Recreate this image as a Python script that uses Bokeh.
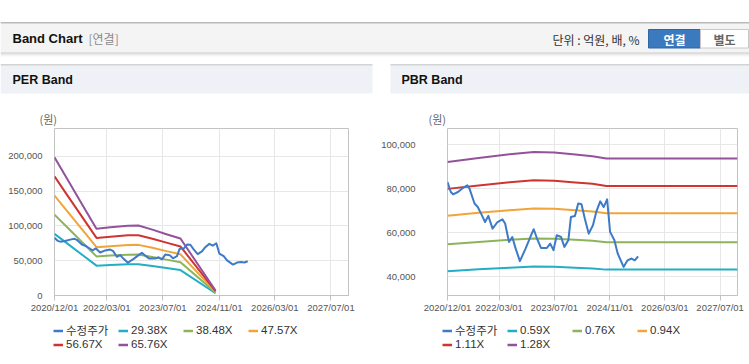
import datetime as dt
from bokeh.plotting import figure
from bokeh.layouts import column, row
from bokeh.models import (Range1d, FixedTicker, CustomJSTickFormatter, NumeralTickFormatter,
                          Legend, LegendItem)
from bokeh.core.properties import value
from bokeh.embed import file_html
from bokeh.resources import INLINE

# ---------------- data ----------------
per_band_dates = ["2020-12-01", "2021-04-01", "2021-08-01", "2021-12-01", "2022-04-01", "2022-09-01",
                  "2022-12-01", "2023-04-01", "2023-08-01", "2023-12-01", "2024-10-01"]
per_29 = [88700, 73450, 58170, 42890, 43780, 44800, 44950, 42310, 39370, 36580, 3230]
per_38 = [116210, 96200, 76190, 56180, 57340, 58680, 58870, 55410, 51560, 47910, 4230]
per_47 = [143660, 118930, 94190, 69450, 70880, 72540, 72780, 68500, 63740, 59230, 5230]
per_56 = [171140, 141680, 112210, 82740, 84440, 86420, 86710, 81600, 75940, 70550, 6230]
per_65 = [198600, 164400, 130200, 96010, 97980, 100280, 100610, 94690, 88120, 81870, 7230]
per_labels = ["29.38X", "38.48X", "47.57X", "56.67X", "65.76X"]

pbr_band_dates = ["2020-12-01", "2021-09-01", "2022-06-01", "2023-01-01", "2023-07-01", "2024-01-01",
                  "2024-06-01", "2024-10-01", "2027-12-01"]
pbr_059 = [42450, 43280, 44040, 44530, 44430, 44010, 43660, 43160, 43160]
pbr_076 = [54680, 55750, 56730, 57360, 57230, 56700, 56240, 55590, 55590]
pbr_094 = [67630, 68960, 70170, 70940, 70780, 70120, 69560, 68760, 68760]
pbr_111 = [79860, 81430, 82860, 83770, 83580, 82810, 82140, 81200, 81200]
pbr_128 = [92100, 93900, 95550, 96600, 96380, 95490, 94720, 93630, 93630]
pbr_labels = ["0.59X", "0.76X", "0.94X", "1.11X", "1.28X"]

price_dates = ["2020-12-01", "2020-12-30", "2021-01-19", "2021-03-03", "2021-04-16", "2021-05-24",
               "2021-06-13", "2021-07-27", "2021-08-25", "2021-09-23", "2021-10-28", "2021-11-26",
               "2022-01-02", "2022-02-15", "2022-03-30", "2022-04-23", "2022-05-27", "2022-06-25",
               "2022-07-25", "2022-08-31", "2022-10-20", "2022-12-08", "2022-12-31", "2023-01-29",
               "2023-03-05", "2023-04-26", "2023-05-25", "2023-06-23", "2023-07-22", "2023-08-29",
               "2023-09-27", "2023-11-01", "2023-11-24", "2023-12-29", "2024-01-27", "2024-02-25",
               "2024-03-25", "2024-04-29", "2024-06-05", "2024-07-04", "2024-08-08", "2024-09-07",
               "2024-10-08", "2024-11-03", "2024-12-11", "2025-01-09", "2025-03-02", "2025-04-06",
               "2025-05-11", "2025-06-09", "2025-07-08"]
price = [83000, 78450, 77400, 78450, 80300, 81500, 80000, 73200, 71600, 68600, 64800, 67600,
         61800, 64800, 66000, 64100, 55700, 58000, 52700, 47000, 52700, 58800, 61500, 57300,
         53000, 53000, 55000, 52000, 58800, 58000, 53500, 56500, 67100, 67500, 73200, 72900,
         66400, 59500, 63300, 69400, 74200, 71600, 75100, 60300, 56500, 50500, 44400, 47400,
         48200, 47400, 49200]
price_label = "수정주가"
unit_label = "(원)"

x_tick_labels = ["2020-12-01", "2022-03-01", "2023-07-01", "2024-11-01", "2026-03-01", "2027-07-01"]
x_start, x_end = "2020-12-01", "2027-12-01"
per_y_ticks = [0, 50000, 100000, 150000, 200000]
pbr_y_ticks = [40000, 60000, 80000, 100000]

colors = ["#3d7ac8", "#22afc6", "#8db45a", "#f0a53a", "#cf3431", "#94529d"]

NUM_FONT = "Liberation Sans"
KR_FONT = "Liberation Sans, Noto Sans CJK KR"


def d(s):
    return dt.datetime.strptime(s, "%Y-%m-%d")


def ms(s):
    return (d(s) - dt.datetime(1970, 1, 1)).total_seconds() * 1000


def chart(width, border_left, border_right, y0, y1, yticks, standoff, band_dates, bands):
    p = figure(width=width, height=191, x_axis_type="datetime", output_backend="svg",
               toolbar_location=None, min_border_left=border_left, min_border_right=border_right,
               min_border_top=1, min_border_bottom=23,
               x_range=Range1d(d(x_start), d(x_end)), y_range=Range1d(y0, y1))
    p.outline_line_color = "#c3c3c3"
    p.outline_line_width = 1
    p.background_fill_color = "white"
    p.border_fill_color = "white"
    p.grid.grid_line_color = "#e7e7e7"
    p.grid.grid_line_width = 1

    xt = FixedTicker(ticks=[ms(s) for s in x_tick_labels])
    p.xaxis.ticker = xt
    p.xgrid.ticker = xt
    p.xaxis.formatter = CustomJSTickFormatter(code="""
        const t = new Date(tick);
        const m = String(t.getUTCMonth() + 1).padStart(2, '0');
        const dd = String(t.getUTCDate()).padStart(2, '0');
        return t.getUTCFullYear() + '/' + m + '/' + dd;""")
    p.xaxis.axis_line_color = "#c3c3c3"
    p.xaxis.major_tick_line_color = "#c3c3c3"
    p.xaxis.major_tick_out = 5
    p.xaxis.major_tick_in = 0
    p.xaxis.minor_tick_line_color = None
    p.xaxis.major_label_standoff = 1
    p.xaxis.major_label_text_font = NUM_FONT
    p.xaxis.major_label_text_font_size = "9.5px"
    p.xaxis.major_label_text_color = "#555555"

    yt = FixedTicker(ticks=yticks)
    p.yaxis.ticker = yt
    p.ygrid.ticker = yt
    p.yaxis.formatter = NumeralTickFormatter(format="0,0")
    p.yaxis.axis_line_color = None
    p.yaxis.major_tick_line_color = None
    p.yaxis.minor_tick_line_color = None
    p.yaxis.major_label_standoff = standoff
    p.yaxis.major_label_text_font = NUM_FONT
    p.yaxis.major_label_text_font_size = "9.5px"
    p.yaxis.major_label_text_color = "#555555"

    bx = [d(s) for s in band_dates]
    for vals, col in zip(bands, colors[1:]):
        p.line(bx, vals, line_color=col, line_width=2, line_join="round")
    p.line([d(s) for s in price_dates], price, line_color=colors[0], line_width=2,
           line_join="round")
    return p


def legend_fig(width, border_left, labels):
    lf = figure(width=width, height=43, output_backend="svg", toolbar_location=None,
                min_border_left=border_left, min_border_top=4, min_border_right=0,
                min_border_bottom=0, x_range=Range1d(0, 1), y_range=Range1d(0, 1))
    lf.axis.visible = False
    lf.grid.visible = False
    lf.outline_line_color = None
    lf.background_fill_color = "white"
    lf.border_fill_color = "white"
    items = []
    for lab, col in zip([price_label] + labels, colors):
        # legend proxy: its data lie outside the legend area's range, so only the key shows
        r = lf.line(x=[5, 6], y=[5, 6], line_color=col, line_width=2.5)
        items.append(LegendItem(label=lab, renderers=[r]))
    legend = Legend(items=items, ncols=4, location="top_left", orientation="horizontal",
                    border_line_color=None, background_fill_alpha=0, padding=0, margin=0,
                    spacing=0, glyph_width=10, glyph_height=11, label_height=11, label_width=52,
                    label_standoff=3, label_text_font=KR_FONT, label_text_font_size="11.5px",
                    label_text_color="#333333", label_text_baseline="middle")
    lf.add_layout(legend)
    return lf


per = chart(378, 54, 30, 0, 240000, per_y_ticks, 6, per_band_dates,
            [per_29, per_38, per_47, per_56, per_65])
pbr = chart(371, 65, 12, 31400, 107300, pbr_y_ticks, 26, pbr_band_dates,
            [pbr_059, pbr_076, pbr_094, pbr_111, pbr_128])
per_leg = legend_fig(378, 53, per_labels)
pbr_leg = legend_fig(371, 64, pbr_labels)

# ---------------- header (page decoration) ----------------
h = figure(width=749, height=127, x_range=Range1d(0, 749), y_range=Range1d(127, 0),
           output_backend="svg", toolbar_location=None, min_border=0)
h.axis.visible = False
h.grid.visible = False
h.outline_line_color = None
h.background_fill_color = "white"
h.border_fill_color = "white"

h.quad(left=[0], right=[749], top=[22.5], bottom=[52], fill_color="#f4f4f4", line_color=None)
h.segment(x0=[0], x1=[749], y0=[22.3], y1=[22.3], line_color="#b9b9b9", line_width=1.5)
for yy, cc in [(52.5, "#c4c4c4"), (53.5, "#d9d9d9"), (54.5, "#e9e9e9"), (55.5, "#f5f5f5")]:
    h.segment(x0=[0], x1=[749], y0=[yy], y1=[yy], line_color=cc, line_width=1)

h.text(x=[12], y=[38], text=["Band Chart"], text_font=value("Liberation Sans"),
       text_font_style="bold", text_font_size="13px", text_color="#111111", text_baseline="middle")
h.text(x=[88], y=[38], text=["[연결]"], text_font=value("Noto Sans CJK KR"),
       text_font_size="12px", text_color="#8a8a8a", text_baseline="middle")
h.text(x=[552], y=[38.5], text=["단위 : 억원, 배, %"], text_font=value("Noto Sans CJK KR"),
       text_font_size="12px", text_color="#333333", text_baseline="middle")
h.quad(left=[648], right=[700], top=[29], bottom=[47.5], fill_color="#3b7abf",
       line_color="#2d67a6", line_width=1)
h.quad(left=[700], right=[748], top=[29], bottom=[47.5], fill_color="#ffffff",
       line_color="#c8c8c8", line_width=1)
h.text(x=[674], y=[38.5], text=["연결"], text_font=value("Noto Sans CJK KR"), text_font_style="bold",
       text_font_size="12px", text_color="white", text_align="center", text_baseline="middle")
h.text(x=[724], y=[38.5], text=["별도"], text_font=value("Noto Sans CJK KR"), text_font_style="bold",
       text_font_size="12px", text_color="#666666", text_align="center", text_baseline="middle")

for xl, xr, title, tx, ux in [(0, 372, "PER Band", 12, 39), (390, 749, "PBR Band", 401, 428)]:
    h.quad(left=[xl], right=[xr], top=[64.5], bottom=[93], fill_color="#eef1f6", line_color=None)
    h.segment(x0=[xl], x1=[xr], y0=[64.3], y1=[64.3], line_color="#d3d3d3", line_width=1.5)
    h.text(x=[tx], y=[79], text=[title], text_font=value("Liberation Sans"), text_font_style="bold",
           text_font_size="12.5px", text_color="#111111", text_baseline="middle")
    h.text(x=[ux], y=[118], text=[unit_label], text_font=value("Noto Sans CJK KR"),
           text_font_size="11px", text_color="#666666", text_baseline="middle")

# ---------------- footer (panel bottom border) ----------------
f = figure(width=749, height=3, x_range=Range1d(0, 749), y_range=Range1d(364, 361),
           output_backend="svg", toolbar_location=None, min_border=0)
f.axis.visible = False
f.grid.visible = False
f.outline_line_color = None
f.border_fill_color = "white"
f.background_fill_color = "white"
for xl, xr in [(0, 373), (390, 749)]:
    f.segment(x0=[xl], x1=[xr], y0=[362.5], y1=[362.5], line_color="#d3d3d3", line_width=1.5)

layout = column(h, row(per, pbr), row(per_leg, pbr_leg), f)
open("out.html", "w").write(file_html(layout, INLINE))
